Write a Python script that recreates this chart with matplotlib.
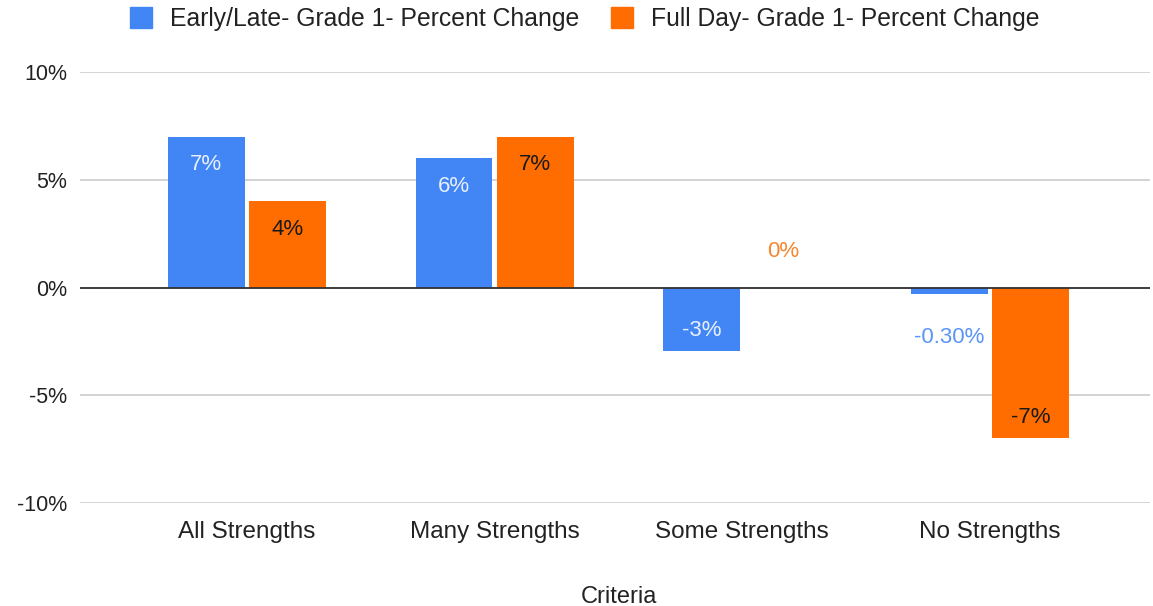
import matplotlib
matplotlib.use('Agg')
import matplotlib.pyplot as plt
import matplotlib.ticker as mtick
from matplotlib.patches import Patch
import numpy as np

plt.rcParams['font.family'] = ['Liberation Sans', 'DejaVu Sans']
plt.rcParams['font.size'] = 14

categories = ['All Strengths', 'Many Strengths', 'Some Strengths', 'No Strengths']
early_late = [7.0, 6.0, -2.95, -0.3]
full_day = [4.0, 7.0, 0.0, -7.0]
early_labels = ['7%', '6%', '-3%', '-0.30%']
full_labels = ['4%', '7%', '0%', '-7%']
series_names = ['Early/Late- Grade 1- Percent Change', 'Full Day- Grade 1- Percent Change']

blue = '#4285F4'
orange = '#FF6D01'

fig = plt.figure(figsize=(11.53, 6.06), dpi=100)
ax = fig.add_axes([0.0694, 0.17, 0.9276, 0.711])

x = np.arange(len(categories))
w = 0.31
off = 0.164
b1 = ax.bar(x - off, early_late, w, color=blue, zorder=3)
b2 = ax.bar(x + off, full_day, w, color=orange, zorder=3)

def label_bars(bars, vals, labels, color, in_color):
    for bar, v, lab in zip(bars, vals, labels):
        cx = bar.get_x() + bar.get_width() / 2
        if abs(v) >= 1:
            dy = -28 if v > 0 else 21
            ax.annotate(lab, (cx, v), xytext=(0, dy), textcoords='offset pixels',
                        ha='center', va='center', color=in_color, fontsize=16, zorder=4)
        else:
            dy = 36 if v >= 0 else -43
            ax.annotate(lab, (cx, v), xytext=(0, dy), textcoords='offset pixels',
                        ha='center', va='center', color=color, fontsize=16, zorder=4)

label_bars(b1, early_late, early_labels, '#5a95f5', '#e8f0fe')
label_bars(b2, full_day, full_labels, '#f5862e', '#1a1a1a')

ax.set_ylim(-10, 10)
ax.set_xlim(-0.674, 3.645)
ax.set_yticks([-10, -5, 0, 5, 10])
ax.yaxis.set_major_formatter(mtick.FuncFormatter(lambda v, p: '%d%%' % v))
ax.set_xticks(x)
ax.set_xticklabels(categories)
ax.tick_params(axis='both', length=0, colors='#222222')
ax.tick_params(axis='y', pad=9, labelsize=15.5)
ax.tick_params(axis='x', pad=13, labelsize=17.5)
ax.grid(axis='y', color='#cccccc', linewidth=1.2, zorder=0)
ax.axhline(0, color='#333333', linewidth=1.3, zorder=5)
for s in ax.spines.values():
    s.set_visible(False)

fig.text(0.537, 1 - 597 / 606, 'Criteria', ha='center', va='center', fontsize=17, color='#222222')

handles = [Patch(color=blue), Patch(color=orange)]
fig.legend(handles, series_names, loc='center', bbox_to_anchor=(0.507, 1 - 19 / 606), ncol=2,
           frameon=False, fontsize=17.8, handlelength=0.9, handleheight=0.9,
           handletextpad=0.7, columnspacing=1.3, labelcolor='#222222')

fig.savefig('out.png', dpi=100)
